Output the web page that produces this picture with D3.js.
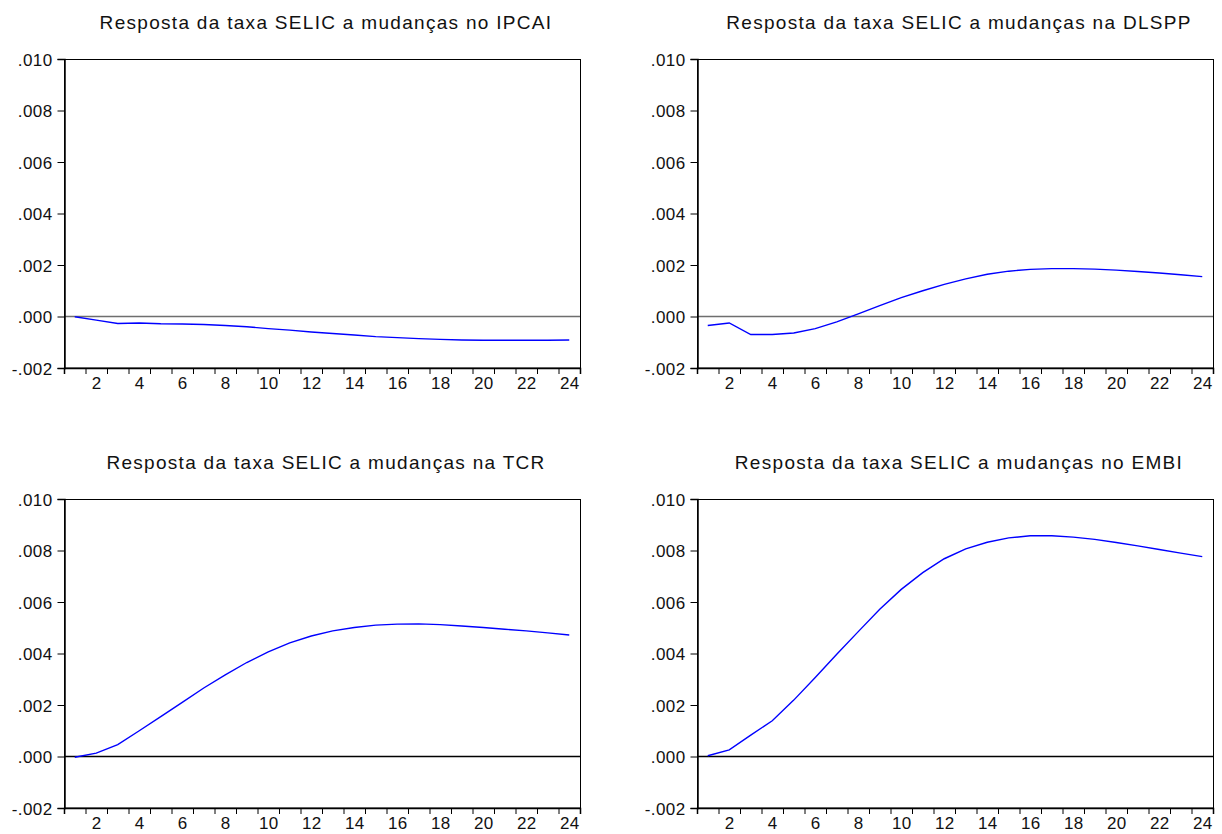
<!DOCTYPE html>
<html>
<head>
<meta charset="utf-8">
<script src="https://cdn.jsdelivr.net/npm/d3@7"></script>
<style>
  html, body { margin: 0; padding: 0; background: #fff; }
  svg { display: block; }
  .tick-label { font-family: "Liberation Sans", Arial, sans-serif; font-size: 17px; letter-spacing: 0.4px; fill: #111; }
  .panel-title { font-family: "Liberation Sans", Arial, sans-serif; font-size: 19px; letter-spacing: 1.3px; fill: #111; }
</style>
</head>
<body>
<svg id="chart" width="1222" height="834"></svg>
<script>
// Impulse responses of the SELIC rate, 24 periods
const periods = [1, 2, 3, 4, 5, 6, 7, 8, 9, 10, 11, 12, 13, 14, 15, 16, 17, 18, 19, 20, 21, 22, 23, 24];

const titles = [
  "Resposta da taxa SELIC a mudanças no IPCAI",
  "Resposta da taxa SELIC a mudanças na DLSPP",
  "Resposta da taxa SELIC a mudanças na TCR",
  "Resposta da taxa SELIC a mudanças no EMBI"
];

const respIPCAI = [-0.00001, -0.00014, -0.00027, -0.00025, -0.00028, -0.00029, -0.00031, -0.00035,
  -0.00040, -0.00047, -0.00053, -0.00060, -0.00066, -0.00072, -0.00078, -0.00082,
  -0.00086, -0.00089, -0.00091, -0.00092, -0.00092, -0.00092, -0.00092, -0.00091];

const respDLSPP = [-0.00035, -0.00025, -0.00070, -0.00070, -0.00064, -0.00047, -0.00021, 0.00010,
  0.00042, 0.00073, 0.00100, 0.00125, 0.00146, 0.00164, 0.00176, 0.00183,
  0.00186, 0.00186, 0.00184, 0.00180, 0.00175, 0.00169, 0.00162, 0.00155];

const respTCR = [-0.00003, 0.00013, 0.00046, 0.00100, 0.00155, 0.00210, 0.00266, 0.00317,
  0.00365, 0.00406, 0.00441, 0.00468, 0.00488, 0.00501, 0.00510, 0.00514,
  0.00515, 0.00512, 0.00507, 0.00501, 0.00494, 0.00488, 0.00480, 0.00472];

const respEMBI = [0.00003, 0.00026, 0.00083, 0.00139, 0.00219, 0.00307, 0.00397, 0.00485,
  0.00572, 0.00649, 0.00714, 0.00768, 0.00806, 0.00832, 0.00849, 0.00857,
  0.00857, 0.00852, 0.00843, 0.00831, 0.00818, 0.00804, 0.00790, 0.00776];

const yTickValues = [-0.002, 0.000, 0.002, 0.004, 0.006, 0.008, 0.010];
const yTickLabels = ["-.002", ".000", ".002", ".004", ".006", ".008", ".010"];
const xLabelValues = [2, 4, 6, 8, 10, 12, 14, 16, 18, 20, 22, 24];

const series = [respIPCAI, respDLSPP, respTCR, respEMBI];
const zeroColors = ["#6e6e6e", "#6e6e6e", "#000000", "#000000"];

// panel frames: left, top, width, height
const frames = [
  { x: 64,  y: 59,  w: 516, h: 309 },
  { x: 697, y: 59,  w: 516, h: 309 },
  { x: 64,  y: 499, w: 516, h: 309 },
  { x: 697, y: 499, w: 516, h: 309 }
];

const svg = d3.select("#chart");

frames.forEach((f, i) => {
  const g = svg.append("g").attr("transform", `translate(${f.x},${f.y})`);

  const x = d3.scaleLinear().domain([0.5, 24.5]).range([0, f.w]);
  const y = d3.scaleLinear().domain([-0.002, 0.010]).range([f.h, 0]);

  // title
  svg.append("text")
    .attr("class", "panel-title")
    .attr("x", f.x + f.w / 2 + 4)
    .attr("y", f.y - 30)
    .attr("text-anchor", "middle")
    .text(titles[i]);

  // zero line
  g.append("line")
    .attr("x1", 0).attr("x2", f.w)
    .attr("y1", y(0)).attr("y2", y(0))
    .attr("stroke", zeroColors[i])
    .attr("stroke-width", 1.3);

  // response line
  const line = d3.line()
    .x((d, k) => x(periods[k]))
    .y(d => y(d));
  g.append("path")
    .datum(series[i])
    .attr("fill", "none")
    .attr("stroke", "#0000ff")
    .attr("stroke-width", 1.4)
    .attr("d", line);

  // frame
  g.append("rect")
    .attr("x", 0.5).attr("y", 0.5)
    .attr("width", f.w).attr("height", f.h - 0.5)
    .attr("fill", "none")
    .attr("stroke", "#000")
    .attr("stroke-width", 1);

  // y axis
  const yAxis = d3.axisLeft(y)
    .tickValues(yTickValues)
    .tickSize(7)
    .tickPadding(5)
    .tickFormat((d, k) => yTickLabels[k]);
  const ya = g.append("g").attr("transform", "translate(0.5,0)").call(yAxis);
  ya.select(".domain").attr("stroke", "#000").attr("stroke-width", 1.5);
  ya.selectAll(".tick line").attr("stroke", "#000");
  ya.selectAll(".tick text").attr("class", "tick-label").attr("font-size", null).attr("font-family", null).attr("dy", "0.36em");

  // x axis: ticks at period boundaries, labels at even periods
  const boundaries = periods.map(p => p - 0.5).concat([24.5]);
  const xAxis = d3.axisBottom(x)
    .tickValues(boundaries)
    .tickSize(6)
    .tickFormat("");
  const xa = g.append("g").attr("transform", `translate(0,${f.h})`).call(xAxis);
  xa.select(".domain").attr("stroke", "#000").attr("stroke-width", 1.5);
  xa.selectAll(".tick line").attr("stroke", "#000");

  const xLab = d3.axisBottom(x)
    .tickValues(xLabelValues)
    .tickSize(0)
    .tickPadding(9)
    .tickFormat(d3.format("d"));
  const xl = g.append("g").attr("transform", `translate(0,${f.h})`).call(xLab);
  xl.select(".domain").remove();
  xl.selectAll(".tick text").attr("class", "tick-label").attr("font-size", null).attr("font-family", null);
});
</script>
</body>
</html>
